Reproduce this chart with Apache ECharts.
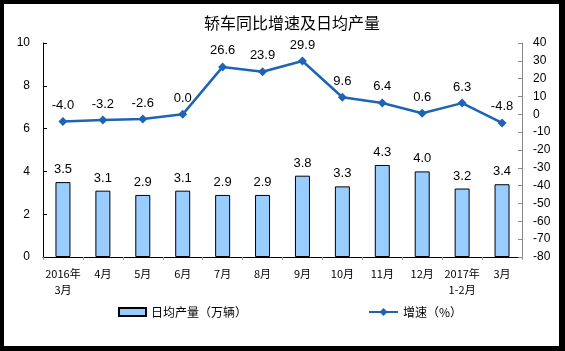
<!DOCTYPE html>
<html>
<head>
<meta charset="utf-8">
<script src="https://cdn.jsdelivr.net/npm/echarts@6/dist/echarts.min.js"></script>
<style>
  html, body { margin: 0; padding: 0; background: #000; }
  #frame {
    position: absolute; left: 0; top: 0; width: 565px; height: 351px;
    box-sizing: border-box; background: #000;
    border-left: 4px solid #000; border-top: 4px solid #000;
    border-right: 6px solid #000; border-bottom: 5px solid #000;
  }
  #chart { width: 555px; height: 342px; background: #fff; }
</style>
</head>
<body>
<div id="frame"><div id="chart"></div></div>
<script>
// 横轴类目
const categories = ['2016年\n3月', '4月', '5月', '6月', '7月', '8月', '9月', '10月', '11月', '12月', '2017年\n1-2月', '3月'];
// 日均产量（万辆）
const dailyOutput = [3.5, 3.1, 2.9, 3.1, 2.9, 2.9, 3.8, 3.3, 4.3, 4.0, 3.2, 3.4];
// 同比增速（%）
const growth = [-4.0, -3.2, -2.6, 0.0, 26.6, 23.9, 29.9, 9.6, 6.4, 0.6, 6.3, -4.8];

const FONT = '"Liberation Sans", Arial, sans-serif';
const CJK = '"Noto Sans CJK SC", sans-serif';
const LINE = '#1E64B4';

const chart = echarts.init(document.getElementById('chart'), null, { renderer: 'canvas' });

chart.setOption({
  animation: false,
  backgroundColor: '#fff',
  title: {
    text: '轿车同比增速及日均产量',
    left: 283,
    textAlign: 'center',
    top: 6,
    textStyle: { fontFamily: CJK, fontSize: 16, fontWeight: 'normal', color: '#000' },
  },
  grid: { left: 39, right: 37, top: 39, bottom: 89 },
  legend: [
    {
      data: [{ name: '日均产量（万辆）', icon: 'rect' }],
      left: 109,
      top: 297,
      itemWidth: 27,
      itemHeight: 8,
      textStyle: { fontFamily: CJK, fontSize: 12, color: '#000' },
    },
    {
      data: ['增速（%）'],
      left: 359,
      top: 297,
      itemWidth: 29,
      itemHeight: 10,
      textStyle: { fontFamily: CJK, fontSize: 12, color: '#000' },
    },
  ],
  xAxis: {
    type: 'category',
    data: categories,
    axisLine: { lineStyle: { color: '#000', width: 1 } },
    axisTick: { show: true, length: 3, lineStyle: { color: '#999' } },
    axisLabel: { fontFamily: CJK, fontSize: 11, color: '#000', margin: 9, lineHeight: 16, interval: 0 },
  },
  yAxis: [
    {
      type: 'value',
      min: 0,
      max: 10,
      interval: 2,
      axisLine: { show: true, lineStyle: { color: '#000' } },
      axisTick: { show: true, inside: true, length: 4, lineStyle: { color: '#000' } },
      axisLabel: { fontFamily: FONT, fontSize: 12, color: '#000', margin: 13 },
      splitLine: { show: false },
    },
    {
      type: 'value',
      min: -80,
      max: 40,
      interval: 10,
      position: 'right',
      axisLine: { show: true, lineStyle: { color: '#888' } },
      axisTick: { show: true, inside: true, length: 4, lineStyle: { color: '#888' } },
      axisLabel: { fontFamily: FONT, fontSize: 12, color: '#000', margin: 11 },
      splitLine: { show: false },
    },
  ],
  series: [
    {
      name: '日均产量（万辆）',
      type: 'bar',
      data: dailyOutput,
      barWidth: 15,
      itemStyle: { color: '#99CCFF', borderColor: '#000', borderWidth: 1 },
      label: {
        show: true,
        position: 'top',
        distance: 6,
        fontFamily: FONT,
        fontSize: 13,
        color: '#000',
        formatter: (p) => p.value.toFixed(1),
      },
    },
    {
      name: '增速（%）',
      type: 'line',
      yAxisIndex: 1,
      data: growth,
      color: LINE,
      lineStyle: { width: 2.5, color: LINE },
      symbol: 'diamond',
      symbolSize: 9,
      itemStyle: { color: LINE },
      z: 5,
      label: {
        show: true,
        position: 'top',
        distance: 5,
        fontFamily: FONT,
        fontSize: 13,
        color: '#000',
        formatter: (p) => p.value.toFixed(1),
      },
    },
  ],
});
</script>
</body>
</html>
